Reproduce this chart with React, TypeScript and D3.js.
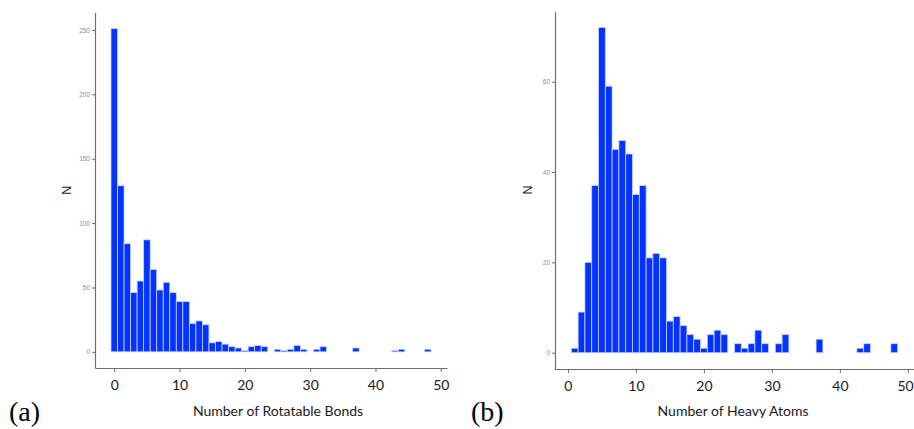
import React, { useEffect, useRef } from "react";
import * as d3 from "d3";

// histogram counts, index = bin value (0..48)
const rotatableCounts = [
  251, 129, 84, 46, 55, 87, 64, 48, 54, 46,
  39, 39, 22, 24, 21, 7, 8, 6, 4, 3,
  1, 4, 5, 4, 0, 2, 1, 2, 5, 2,
  0, 2, 4, 0, 0, 0, 0, 3, 0, 0,
  0, 0, 0, 1, 2, 0, 0, 0, 2,
];
const heavyAtomCounts = [
  0, 1, 9, 20, 37, 72, 59, 45, 47, 44,
  35, 37, 21, 22, 21, 7, 8, 6, 4, 3,
  1, 4, 5, 4, 0, 2, 1, 2, 5, 2,
  0, 2, 4, 0, 0, 0, 0, 3, 0, 0,
  0, 0, 0, 1, 2, 0, 0, 0, 2,
];
const xTicks = [0, 10, 20, 30, 40, 50];
const rotatableYTicks = [0, 50, 100, 150, 200, 250];
const heavyYTicks = [0, 20, 40, 60];

const BAR_FILL = "#0433ff";
const BAR_STROKE = "#c9d3ff";
const AXIS_COLOR = "#6e6e6e";
const SANS = "Lato, 'Open Sans', sans-serif";

type Panel = {
  counts: number[];
  yTicks: number[];
  xDomain: [number, number];
  xRange: [number, number];
  yDomain: [number, number];
  yRange: [number, number];
  title: string;
  titleX: number;
  nX: number;
  tag: string;
  tagX: number;
};

const panels: Panel[] = [
  {
    counts: rotatableCounts,
    yTicks: rotatableYTicks,
    xDomain: [-2.95, 50.95],
    xRange: [95, 447],
    yDomain: [-12.55, 263.55],
    yRange: [368, 12.5],
    title: "Number of Rotatable Bonds",
    titleX: 278,
    nX: 67,
    tag: "(a)",
    tagX: 9,
  },
  {
    counts: heavyAtomCounts,
    yTicks: heavyYTicks,
    xDomain: [-1.9, 50.9],
    xRange: [555, 914],
    yDomain: [-3.6, 75.6],
    yRange: [369, 11.2],
    title: "Number of Heavy Atoms",
    titleX: 733,
    nX: 528,
    tag: "(b)",
    tagX: 471,
  },
];

export default function App() {
  const ref = useRef<SVGSVGElement>(null);

  useEffect(() => {
    const svg = d3.select(ref.current);
    svg.selectAll("*").remove();

    panels.forEach((p) => {
      const x = d3.scaleLinear().domain(p.xDomain).range(p.xRange);
      const y = d3.scaleLinear().domain(p.yDomain).range(p.yRange);
      const g = svg.append("g");

      // bars
      const data = p.counts
        .map((c, i) => ({ bin: i, count: c }))
        .filter((d) => d.count > 0);
      g.selectAll("rect")
        .data(data)
        .enter()
        .append("rect")
        .attr("x", (d) => x(d.bin - 0.5))
        .attr("width", (d) => x(d.bin + 0.5) - x(d.bin - 0.5))
        .attr("y", (d) => y(d.count))
        .attr("height", (d) => y(0) - y(d.count))
        .attr("fill", BAR_FILL)
        .attr("stroke", BAR_STROKE)
        .attr("stroke-width", 0.8);

      // x axis
      const xAxis = g
        .append("g")
        .attr("transform", `translate(0,${p.yRange[0]})`)
        .call(d3.axisBottom(x).tickValues(xTicks).tickSize(4).tickSizeOuter(0));
      xAxis.select(".domain").attr("stroke", AXIS_COLOR).attr("stroke-width", 1.2);
      xAxis.selectAll(".tick line").attr("stroke", AXIS_COLOR);
      xAxis
        .selectAll<SVGTextElement, number>(".tick text")
        .attr("fill", "#1a1a1a")
        .attr("font-family", SANS)
        .attr("font-size", 14)
        .attr("dy", "1.1em")
        // keep the last label inside the right edge
        .attr("x", (d) => (x(d) + 9 > 914 ? 914 - 9 - x(d) : 0));

      // y axis
      const yAxis = g
        .append("g")
        .attr("transform", `translate(${p.xRange[0]},0)`)
        .call(d3.axisLeft(y).tickValues(p.yTicks).tickSize(3).tickSizeOuter(0));
      yAxis.select(".domain").attr("stroke", AXIS_COLOR).attr("stroke-width", 1.2);
      yAxis.selectAll(".tick line").attr("stroke", AXIS_COLOR);
      yAxis
        .selectAll(".tick text")
        .attr("fill", "#8c8c8c")
        .attr("font-family", "Arial, 'Liberation Sans', sans-serif")
        .attr("font-size", 6.5)
        .attr("x", -5);

      // titles
      g.append("text")
        .attr("x", p.titleX)
        .attr("y", 416)
        .attr("text-anchor", "middle")
        .attr("font-family", SANS)
        .attr("font-size", 14)
        .attr("fill", "#1a1a1a")
        .text(p.title);

      g.append("text")
        .attr("transform", `translate(${p.nX},${(p.yRange[0] + p.yRange[1]) / 2}) rotate(-90)`)
        .attr("text-anchor", "middle")
        .attr("dy", "0.35em")
        .attr("font-family", "Arial, 'Liberation Sans', sans-serif")
        .attr("font-size", 12.5)
        .attr("fill", "#1a1a1a")
        .text("N");

      g.append("text")
        .attr("x", p.tagX)
        .attr("y", 421)
        .attr("font-family", "'Liberation Serif', 'Times New Roman', serif")
        .attr("font-size", 28)
        .attr("fill", "#000")
        .text(p.tag);
    });
  }, []);

  return (
    <svg
      ref={ref}
      width={914}
      height={429}
      style={{ position: "absolute", left: 0, top: 0, background: "#fff" }}
    />
  );
}
